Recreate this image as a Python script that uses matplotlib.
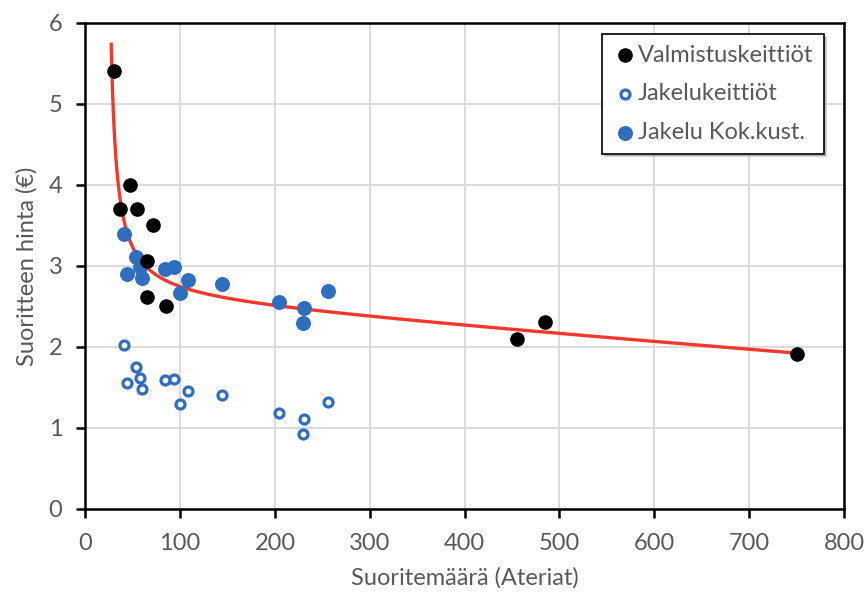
import numpy as np
import matplotlib
matplotlib.use("Agg")
import matplotlib.pyplot as plt

plt.rcParams['font.family'] = ['Lato', 'DejaVu Sans']

# Valmistuskeittiöt (black dots)
valm_x = [30, 47, 37, 55, 71, 65, 65, 85, 455, 485, 750]
valm_y = [5.40, 4.00, 3.70, 3.70, 3.50, 3.06, 2.61, 2.50, 2.10, 2.31, 1.91]

# Jakelukeittiöt (open blue circles) and Jakelu Kok.kust. (filled blue)
jak_x = [41, 53, 44, 58, 60, 84, 93, 108, 100, 144, 204, 231, 230, 256]
jak_y = [2.02, 1.75, 1.55, 1.62, 1.48, 1.59, 1.60, 1.46, 1.29, 1.41, 1.19, 1.11, 0.93, 1.32]
kok_y = [3.39, 3.11, 2.90, 2.99, 2.85, 2.96, 2.99, 2.83, 2.66, 2.78, 2.55, 2.48, 2.29, 2.69]

# trend line parameters: y = a + d*x + b/(x - c)
trend_a, trend_d, trend_b, trend_c = 2.584, -0.000918, 20.0, 21.0
trend_start, trend_end = 27.3, 750

gray = '#595959'
blue = '#2f6dbf'
fs = 17

fig = plt.figure(figsize=(8.66, 5.94), dpi=100)
ax = fig.add_axes([0.0985, 0.1431, 0.8761, 0.8187])

tx = np.linspace(trend_start, trend_end, 600)
ty = trend_a + trend_d * tx + trend_b / (tx - trend_c)
ax.plot(tx, ty, color='#f0392b', lw=2.4, zorder=2)

ax.scatter(valm_x, valm_y, s=90, color='black', zorder=4, label='Valmistuskeittiöt')
ax.scatter(jak_x, jak_y, s=42, facecolor='white', edgecolor=blue, linewidth=2.3,
           zorder=3, label='Jakelukeittiöt')
ax.scatter(jak_x, kok_y, s=95, color=blue, zorder=3, label='Jakelu Kok.kust.')

ax.set_xlim(0, 800)
ax.set_ylim(0, 6)
ax.set_xticks(range(0, 801, 100))
ax.set_yticks(range(0, 7))
ax.grid(True, color='#d9d9d9', lw=1.3)
ax.set_axisbelow(True)
for sp in ax.spines.values():
    sp.set_linewidth(1.8)
    sp.set_color('black')
ax.tick_params(direction='out', length=6.5, width=1.8, colors='black',
               labelcolor=gray, labelsize=fs)
ax.tick_params(axis='x', pad=11)
ax.tick_params(axis='y', pad=10)

ax.set_xlabel('Suoritemäärä (Ateriat)', fontsize=fs, color=gray, labelpad=9)
ax.set_ylabel('Suoritteen hinta (€)', fontsize=fs, color=gray, labelpad=8)

leg = ax.legend(loc='upper right', bbox_to_anchor=(0.973, 0.977), fontsize=fs,
                frameon=True, fancybox=False, shadow={'ox': 2, 'oy': -2, 'color': '#999999'},
                handletextpad=0.05, borderpad=0.45, labelspacing=0.75,
                handlelength=1.0, borderaxespad=0, labelcolor=gray)
leg.get_frame().set_edgecolor('black')
leg.get_frame().set_linewidth(1.2)

fig.savefig('out.png', dpi=100)
